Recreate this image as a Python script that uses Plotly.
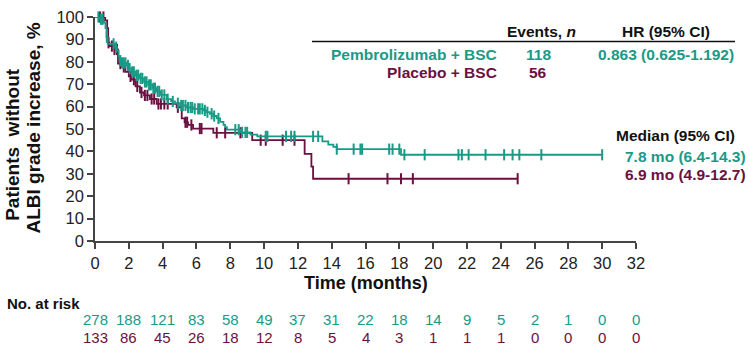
import numpy as np
import plotly.graph_objects as go

# ---------------- data ----------------
pembro_time = [0, 0.3, 0.5, 0.62, 0.68, 0.75, 1.2, 1.3, 1.4, 1.45, 1.6, 1.87, 2.0, 2.17, 2.4, 2.66,
               2.9, 3.15, 3.4, 3.65, 3.9, 4.24, 4.5, 4.73, 5.03, 5.4, 5.8, 6.4, 6.6, 6.8, 7.0, 7.2,
               7.4, 7.6, 7.7, 7.8, 8.6, 9.2, 9.6, 13.45, 13.8, 14.1, 14.3, 18.1, 30.0]
pembro_surv = [100, 99, 97.5, 95, 91, 88, 86.5, 85, 82.5, 80.5, 79.5, 78.4, 77, 75.5, 74, 72.6,
               71, 69.7, 68.2, 66.8, 65.2, 63.3, 62.3, 61.5, 60.5, 59.6, 59, 58.3, 57.5, 56.8, 55.8, 54.7,
               53.2, 51.8, 50.8, 49.7, 48.5, 47.5, 46.7, 44.5, 43, 42, 41, 38.5, 38.5]
pembro_censor = [0.2, 0.35, 0.45, 0.7, 1.1, 1.25, 1.5, 1.6, 1.7, 1.8, 1.95, 2.05, 2.2, 2.3, 2.45,
                 2.55, 2.7, 2.8, 2.95, 3.05, 3.2, 3.3, 3.45, 3.55, 3.7, 3.8, 3.95, 4.1, 4.3, 4.6,
                 4.9, 5.1, 5.2, 5.35, 5.5, 5.65, 5.75, 5.9, 6.1, 6.2, 6.35, 6.5, 6.65, 6.9, 7.05,
                 7.3, 8.3, 8.5, 8.7, 8.9, 9.0, 10.1, 10.2, 11.3, 11.6, 11.8, 12.9, 13.2, 14.3,
                 15.3, 15.7, 15.8, 17.4, 17.6, 18.0, 18.3, 19.5, 21.5, 21.7, 22.1, 23.1, 24.2,
                 24.7, 25.1, 26.4, 30.0]

placebo_time = [0, 0.6, 0.72, 0.78, 0.85, 1.15, 1.36, 1.58, 1.8, 2.0, 2.17, 2.4, 2.66, 2.9, 3.25,
                3.65, 4.83, 5.13, 5.3, 5.5, 5.8, 7.0, 9.3, 12.4, 12.8, 12.9, 25.0]
placebo_surv = [100, 98.5, 95, 88.5, 87, 85.5, 79.2, 77.7, 75.5, 73.5, 72, 69, 66.3, 65, 63.4,
                61.2, 59.7, 54.7, 53, 51.8, 50.2, 48.3, 45, 38.9, 33.2, 27.8, 27.8]
placebo_censor = [0.3, 0.5, 0.8, 1.0, 1.15, 1.3, 1.5, 1.7, 2.1, 2.3, 2.5, 2.75, 2.95, 3.1, 3.35,
                  3.5, 3.75, 3.9, 4.1, 4.3, 4.9, 5.35, 5.45, 5.7, 6.2, 6.3, 7.2, 7.7, 8.6, 9.8,
                  10.1, 11.1, 11.8, 15.0, 17.3, 18.1, 18.8, 25.0]

risk_times = [0, 2, 4, 6, 8, 10, 12, 14, 16, 18, 20, 22, 24, 26, 28, 30, 32]
pembro_risk = [278, 188, 121, 83, 58, 49, 37, 31, 22, 18, 14, 9, 5, 2, 1, 0, 0]
placebo_risk = [133, 86, 45, 26, 18, 12, 8, 5, 4, 3, 1, 1, 1, 0, 0, 0, 0]

x_ticks = list(range(0, 33, 2))
y_ticks = list(range(0, 101, 10))

TEAL = "#1a9a86"
MAROON = "#6b1040"
FONT = "Liberation Sans, Arial, sans-serif"

# ---------------- layout geometry (pixels) ----------------
W, H = 748, 350
L, R, T, B = 95, 636, 8, 241   # plot area edges in pixels


def px(xpix):
    return (xpix - L) / (R - L)


def py(ypix):
    return (B - ypix) / (B - T)


def censor_y(times, surv, ct):
    t = np.asarray(times)
    s = np.asarray(surv)
    idx = np.searchsorted(t, np.asarray(ct), side="right") - 1
    return s[idx]


fig = go.Figure()

for name, tt, ss, cc, col in [("Placebo + BSC", placebo_time, placebo_surv, placebo_censor, MAROON),
                              ("Pembrolizumab + BSC", pembro_time, pembro_surv, pembro_censor, TEAL)]:
    fig.add_trace(go.Scatter(x=tt, y=ss, mode="lines", line=dict(color=col, width=1.8, shape="hv"),
                             name=name, showlegend=False, hoverinfo="skip", cliponaxis=False))
    fig.add_trace(go.Scatter(x=cc, y=censor_y(tt, ss, cc), mode="markers", cliponaxis=False,
                             marker=dict(symbol="line-ns-open", size=8, color=col,
                                         line=dict(color=col, width=2)),
                             showlegend=False, hoverinfo="skip"))

axis_common = dict(ticks="outside", ticklen=6, tickwidth=1.5, tickcolor="#444", showline=True,
                   linecolor="#444", linewidth=1.5, showgrid=False, zeroline=False,
                   ticklabeloverflow="allow",
                   tickfont=dict(family=FONT, size=16.5, color="#222"))
fig.update_xaxes(range=[0, 32], tickvals=x_ticks, **axis_common)
fig.update_yaxes(range=[0, 100], tickvals=y_ticks, **axis_common)

ann = []


def text(x, y, s, size=15, color="#111", xanchor="center", bold=True, angle=0, xref=None):
    ann.append(dict(x=x, y=y, xref=xref or "paper", yref="paper", text=(f"<b>{s}</b>" if bold else s),
                    showarrow=False, xanchor=xanchor, yanchor="middle", textangle=angle,
                    font=dict(family=FONT, size=size, color=color)))


# y-axis title (two lines)
text(px(13), py(141), "Patients  without", size=19, angle=-90)
text(px(34), py(124), "ALBI grade increase, %", size=19, angle=-90)
# x-axis title
text(px(366), py(285), "Time (months)", size=18)

# legend table
text(px(541), py(23), "Events, <i>n</i>", size=15.5)
text(px(666), py(23), "HR (95% CI)", size=15.5)
text(px(499), py(47), "Pembrolizumab + BSC", size=15.5, color=TEAL, xanchor="right")
text(px(538), py(47), "118", size=15.5, color=TEAL)
text(px(666), py(47), "0.863 (0.625-1.192)", size=15.5, color=TEAL)
text(px(499), py(66), "Placebo + BSC", size=15.5, color=MAROON, xanchor="right")
text(px(538), py(66), "56", size=15.5, color=MAROON)

# median
text(px(737), py(131), "Median (95% CI)", size=15.5, xanchor="right")
text(px(623), py(153), "7.8 mo (6.4-14.3)", size=15.5, color=TEAL, xanchor="left")
text(px(623), py(172), "6.9 mo (4.9-12.7)", size=15.5, color=MAROON, xanchor="left")

# number at risk
text(px(5), py(306), "No. at risk", size=15, xanchor="left")
for t, a, b in zip(risk_times, pembro_risk, placebo_risk):
    text(t, py(323), str(a), size=15, color=TEAL, bold=False, xref="x")
    text(t, py(341), str(b), size=15, color=MAROON, bold=False, xref="x")

fig.update_layout(
    width=W, height=H, margin=dict(l=L, r=W - R, t=T, b=H - B),
    paper_bgcolor="white", plot_bgcolor="white", annotations=ann,
    shapes=[dict(type="line", xref="paper", yref="paper", x0=px(312), x1=px(735),
                 y0=py(33.5), y1=py(33.5), line=dict(color="#111", width=1.5))],
)

fig.write_html("out.html")
